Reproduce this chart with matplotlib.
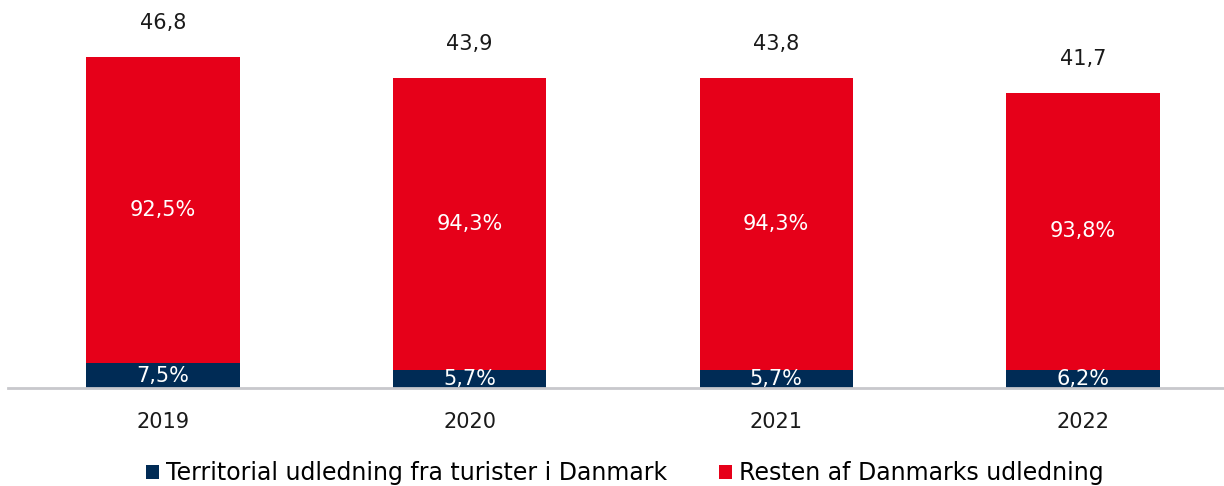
import matplotlib
matplotlib.use("Agg")
import matplotlib.pyplot as plt
from matplotlib.patches import Patch

years = ["2019", "2020", "2021", "2022"]
totals = [46.8, 43.9, 43.8, 41.7]
tourist_pct = [7.5, 5.7, 5.7, 6.2]
rest_pct = [92.5, 94.3, 94.3, 93.8]
series_names = ["Territorial udledning fra turister i Danmark", "Resten af Danmarks udledning"]

navy = "#002B55"
red = "#E60019"
plt.rcParams['font.family'] = ['DejaVu Sans']

W, H = 1224, 486
fig = plt.figure(figsize=(W / 100, H / 100), dpi=100)
ax = fig.add_axes([8 / W, 98 / H, 1 - 8 / W, 388 / H])

x = list(range(len(years)))
tourist_vals = [t * p / 100 for t, p in zip(totals, tourist_pct)]
rest_vals = [t * p / 100 for t, p in zip(totals, rest_pct)]

ax.bar(x, tourist_vals, width=0.5, color=navy, zorder=2)
ax.bar(x, rest_vals, width=0.5, bottom=tourist_vals, color=red, zorder=2)

fs = 15
for i in x:
    ax.text(i, tourist_vals[i] / 2, f"{tourist_pct[i]:.1f}%".replace(".", ","),
            ha="center", va="center", color="white", fontsize=fs, zorder=3)
    ax.text(i, tourist_vals[i] + rest_vals[i] / 2, f"{rest_pct[i]:.1f}%".replace(".", ","),
            ha="center", va="center", color="white", fontsize=fs, zorder=3)
    ax.annotate(f"{totals[i]:.1f}".replace(".", ","), (i, totals[i]), xytext=(0, 34),
                textcoords="offset pixels", ha="center", va="center", fontsize=fs, color="#1a1a1a")

ax.set_xlim(-0.505, 3.46)
ax.set_ylim(0, 388 / 7.07)
ax.set_xticks(x)
ax.set_xticklabels(years, fontsize=fs, color="#1a1a1a")
ax.tick_params(axis="x", length=0, pad=17)
ax.set_yticks([])
for s in ["top", "right", "left"]:
    ax.spines[s].set_visible(False)
ax.spines["bottom"].set_color("#C8C8CC")
ax.spines["bottom"].set_linewidth(2)
ax.spines["bottom"].set_zorder(4)

handles = [Patch(facecolor=navy), Patch(facecolor=red)]
fig.legend(handles, series_names, loc="center", bbox_to_anchor=(625 / W, 1 - 473 / H), ncol=2,
           frameon=False, fontsize=17, handlelength=0.55, handleheight=0.55,
           handletextpad=0.3, columnspacing=2.2)

fig.savefig("out.png", dpi=100)
